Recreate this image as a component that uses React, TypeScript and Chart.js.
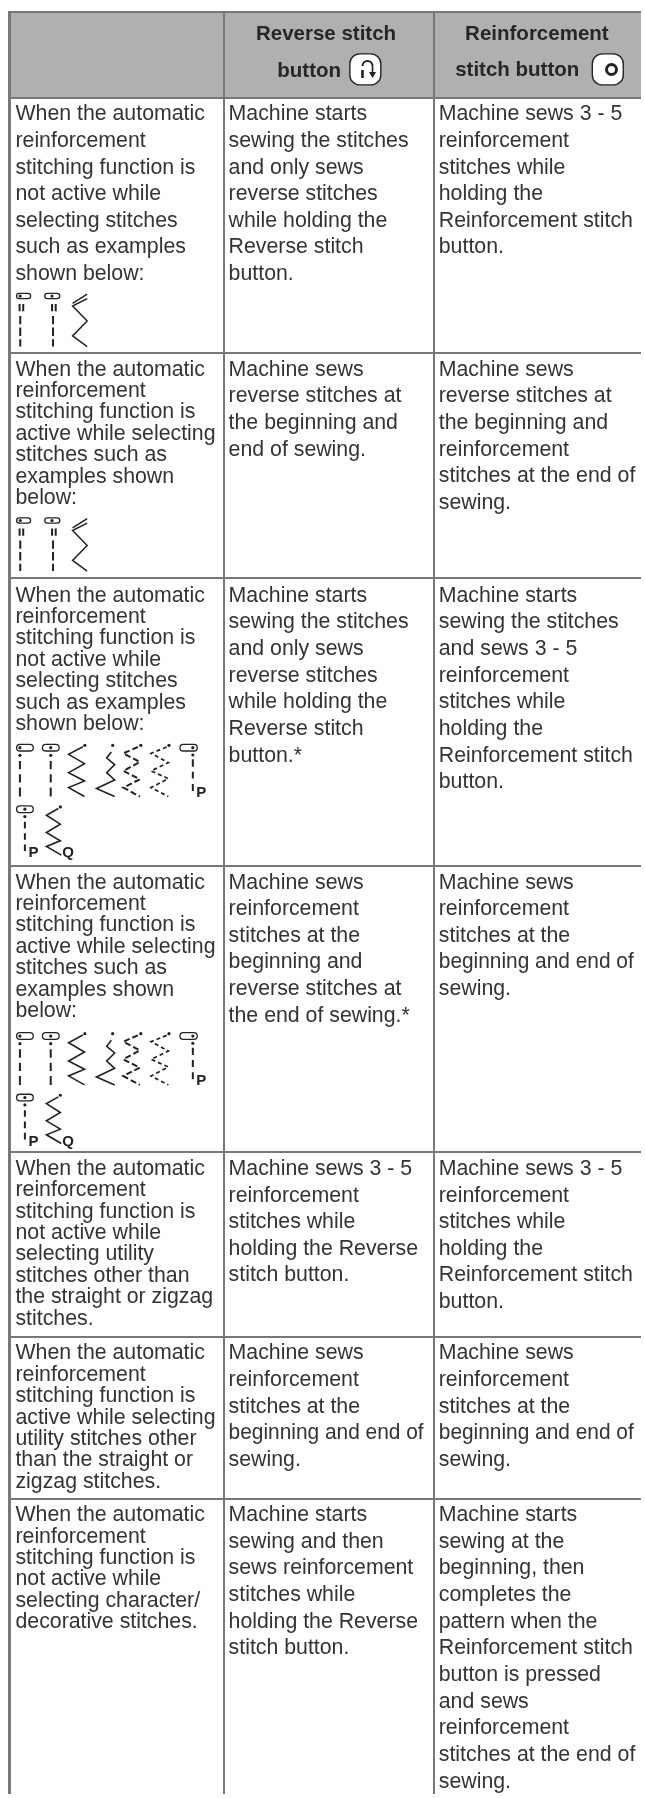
import React, { useEffect, useRef } from "react";
import { Chart, registerables } from "chart.js";

Chart.register(...registerables);

// ---------- table content ----------
const headerReverse = ["Reverse stitch", "button"];
const headerReinforce = ["Reinforcement", "stitch button"];

const conditionColumn: string[][] = [
  ["When the automatic", "reinforcement", "stitching function is", "not active while", "selecting stitches", "such as examples", "shown below:"],
  ["When the automatic", "reinforcement", "stitching function is", "active while selecting", "stitches such as", "examples shown", "below:"],
  ["When the automatic", "reinforcement", "stitching function is", "not active while", "selecting stitches", "such as examples", "shown below:"],
  ["When the automatic", "reinforcement", "stitching function is", "active while selecting", "stitches such as", "examples shown", "below:"],
  ["When the automatic", "reinforcement", "stitching function is", "not active while", "selecting utility", "stitches other than", "the straight or zigzag", "stitches."],
  ["When the automatic", "reinforcement", "stitching function is", "active while selecting", "utility stitches other", "than the straight or", "zigzag stitches."],
  ["When the automatic", "reinforcement", "stitching function is", "not active while", "selecting character/", "decorative stitches."],
];
const reverseColumn: string[][] = [
  ["Machine starts", "sewing the stitches", "and only sews", "reverse stitches", "while holding the", "Reverse stitch", "button."],
  ["Machine sews", "reverse stitches at", "the beginning and", "end of sewing."],
  ["Machine starts", "sewing the stitches", "and only sews", "reverse stitches", "while holding the", "Reverse stitch", "button.*"],
  ["Machine sews", "reinforcement", "stitches at the", "beginning and", "reverse stitches at", "the end of sewing.*"],
  ["Machine sews 3 - 5", "reinforcement", "stitches while", "holding the Reverse", "stitch button."],
  ["Machine sews", "reinforcement", "stitches at the", "beginning and end of", "sewing."],
  ["Machine starts", "sewing and then", "sews reinforcement", "stitches while", "holding the Reverse", "stitch button."],
];
const reinforceColumn: string[][] = [
  ["Machine sews 3 - 5", "reinforcement", "stitches while", "holding the", "Reinforcement stitch", "button."],
  ["Machine sews", "reverse stitches at", "the beginning and", "reinforcement", "stitches at the end of", "sewing."],
  ["Machine starts", "sewing the stitches", "and sews 3 - 5", "reinforcement", "stitches while", "holding the", "Reinforcement stitch", "button."],
  ["Machine sews", "reinforcement", "stitches at the", "beginning and end of", "sewing."],
  ["Machine sews 3 - 5", "reinforcement", "stitches while", "holding the", "Reinforcement stitch", "button."],
  ["Machine sews", "reinforcement", "stitches at the", "beginning and end of", "sewing."],
  ["Machine starts", "sewing at the", "beginning, then", "completes the", "pattern when the", "Reinforcement stitch", "button is pressed", "and sews", "reinforcement", "stitches at the end of", "sewing."],
];

// ---------- table rules on the axes (same units as canvas pixels) ----------
const columnRules = [9.5, 225, 437];
const rowRules = [12, 98, 354, 579, 868, 1155, 1340, 1502];
const textX = [15.5, 230, 441.5];
const firstBaselineGap = [22.5, 22.5, 24, 22.5, 22.5, 22.5, 22.5];
const widePitch = 26.7;
const tightPitch = 21.45;
const conditionPitch = [widePitch, tightPitch, tightPitch, tightPitch, tightPitch, tightPitch, tightPitch];

// ---------- stitch glyphs, traced at 3x from the picture ----------
type Glyph = { lines: { pts: number[][]; dash?: number[]; w?: number }[]; dots: number[][]; pills: number[][]; letters: { t: string; x: number; y: number }[] };

const bar = (x: number, a: number, b: number) => ({ pts: [[x, a], [x, b]], w: 2 });

const simpleGlyph: Glyph = {
  pills: [[20, 12, 62, 28], [105, 12, 150, 28]],
  dots: [[31, 20], [127, 20]],
  letters: [],
  lines: [
    bar(29, 44, 66), bar(40, 44, 66), bar(31, 80, 105), bar(31, 115, 140), bar(31, 150, 172),
    bar(127, 44, 66), bar(138, 44, 66), bar(130, 80, 105), bar(130, 115, 140), bar(130, 150, 172),
    { pts: [[233, 14], [189, 42]], w: 1.5 },
    { pts: [[233, 28], [189, 50], [233, 95], [189, 140], [233, 172]], w: 1.5 },
  ],
};

const fullGlyph: Glyph = {
  pills: [[50, 105, 100, 125], [128, 105, 178, 125], [543, 105, 595, 125], [50, 290, 100, 310]],
  dots: [
    [60, 115], [153, 115], [582, 115], [75, 300],
    [60, 138], [153, 138], [582, 137], [75, 322],
    [256, 108], [340, 108], [425, 108], [510, 108], [182, 293],
  ],
  letters: [{ t: "P", x: 592, y: 262 }, { t: "P", x: 86, y: 445 }, { t: "Q", x: 188, y: 445 }],
  lines: [
    bar(60, 155, 180), bar(60, 195, 220), bar(60, 235, 262),
    bar(153, 155, 180), bar(153, 195, 220), bar(153, 235, 262),
    bar(582, 150, 172), bar(582, 187, 208), bar(582, 224, 245),
    bar(75, 338, 358), bar(75, 372, 392), bar(75, 406, 426),
    { pts: [[250, 112], [207, 135], [255, 163], [207, 190], [255, 215], [207, 235], [255, 262]], w: 1.6 },
    { pts: [[336, 128], [322, 146], [346, 166], [322, 190], [346, 212], [291, 238], [346, 262]], w: 1.6 },
    { pts: [[416, 113], [372, 132], [422, 158], [372, 185], [422, 210], [372, 235], [422, 262]], w: 2, dash: [6, 3] },
    { pts: [[503, 113], [456, 132], [508, 160], [456, 185], [508, 208], [456, 235], [508, 262]], w: 1.7, dash: [4, 3] },
    { pts: [[176, 298], [140, 318], [182, 345], [140, 370], [182, 395], [140, 412], [185, 438]], w: 1.6 },
  ],
};

const glyphPlacements: { g: Glyph; ox: number; oy: number }[] = [
  { g: simpleGlyph, ox: 10, oy: 290 },
  { g: simpleGlyph, ox: 10, oy: 515 },
  { g: fullGlyph, ox: 0, oy: 711 },
  { g: fullGlyph, ox: 0, oy: 1000 },
];

const INK = "#333333";
const BODY_FONT = "21.3px 'Liberation Sans', Arial, sans-serif";
const HEAD_FONT = "bold 20.5px 'Liberation Sans', Arial, sans-serif";
const TIGHT_LINE = "beginning and end of";

function buildDatasets() {
  const out: any[] = [];
  const dots: { x: number; y: number }[] = [];
  glyphPlacements.forEach(({ g, ox, oy }) => {
    g.lines.forEach((l) => {
      out.push({
        showLine: true,
        data: l.pts.map(([x, y]) => ({ x: ox + x / 3, y: oy + y / 3 })),
        borderColor: "#222",
        borderWidth: l.w ?? 1.5,
        borderDash: l.dash ?? [],
        pointRadius: 0,
        tension: 0,
        fill: false,
      });
    });
    g.dots.forEach(([x, y]) => dots.push({ x: ox + x / 3, y: oy + y / 3 }));
  });
  out.push({ showLine: false, data: dots, pointRadius: 1.6, pointBorderWidth: 0, pointBackgroundColor: "#222" });
  return out;
}

const tablePlugin = {
  id: "tablePlugin",
  beforeDraw(chart: any) {
    const { ctx, scales } = chart;
    const { x, y } = scales;
    ctx.save();
    ctx.fillStyle = "#b0b0b0";
    const l = x.getPixelForValue(x.min);
    const t = y.getPixelForValue(rowRules[0]);
    ctx.fillRect(l, t, x.getPixelForValue(x.max) - l, y.getPixelForValue(rowRules[1]) - t);
    ctx.restore();
  },
  afterDraw(chart: any) {
    const { ctx, scales } = chart;
    const { x, y } = scales;
    ctx.save();
    ctx.textBaseline = "alphabetic";
    ctx.textAlign = "left";
    // header
    ctx.font = HEAD_FONT;
    ctx.fillStyle = "#262626";
    ctx.fillText(headerReverse[0], x.getPixelForValue(257.5), y.getPixelForValue(40));
    ctx.fillText(headerReverse[1], x.getPixelForValue(279), y.getPixelForValue(77));
    ctx.fillText(headerReinforce[0], x.getPixelForValue(468), y.getPixelForValue(40));
    ctx.fillText(headerReinforce[1], x.getPixelForValue(458), y.getPixelForValue(76));

    // buttons
    const button = (bx: number, by: number) => {
      ctx.beginPath();
      ctx.roundRect(x.getPixelForValue(bx), y.getPixelForValue(by), 31, 31, 10);
      ctx.fillStyle = "#fff";
      ctx.fill();
      ctx.strokeStyle = "#222";
      ctx.lineWidth = 1.4;
      ctx.stroke();
    };
    button(352, 54);
    ctx.strokeStyle = "#222";
    ctx.lineWidth = 2;
    ctx.beginPath();
    ctx.arc(367.5, 66, 5, Math.PI, 0);
    ctx.stroke();
    ctx.lineWidth = 2.6;
    ctx.beginPath();
    ctx.moveTo(362.5, 70);
    ctx.lineTo(362.5, 78);
    ctx.stroke();
    ctx.lineWidth = 1.6;
    ctx.beginPath();
    ctx.moveTo(372.5, 66);
    ctx.lineTo(372.5, 73);
    ctx.stroke();
    ctx.fillStyle = "#222";
    ctx.beginPath();
    ctx.moveTo(369, 72);
    ctx.lineTo(376, 72);
    ctx.lineTo(372.5, 78);
    ctx.closePath();
    ctx.fill();
    button(596, 54);
    ctx.beginPath();
    ctx.lineWidth = 3;
    ctx.arc(611.5, 69.5, 5, 0, Math.PI * 2);
    ctx.stroke();

    // body text
    ctx.font = BODY_FONT;
    ctx.fillStyle = INK;
    const drawCol = (col: string[][], cx: number, pitch: (r: number) => number) => {
      col.forEach((lines, r) => {
        const top = rowRules[r + 1];
        lines.forEach((s, i) => {
          const px = x.getPixelForValue(cx);
          const py = y.getPixelForValue(top + firstBaselineGap[r] + i * pitch(r));
          if (s === TIGHT_LINE) ctx.fillText(s, px, py, 195);
          else ctx.fillText(s, px, py);
        });
      });
    };
    drawCol(conditionColumn, textX[0], (r) => conditionPitch[r]);
    drawCol(reverseColumn, textX[1], () => widePitch);
    drawCol(reinforceColumn, textX[2], () => widePitch);

    // pills & stitch letters
    glyphPlacements.forEach(({ g, ox, oy }) => {
      ctx.strokeStyle = "#222";
      ctx.lineWidth = 1.3;
      g.pills.forEach(([a, b, c, d]) => {
        const px = x.getPixelForValue(ox + a / 3);
        const py = y.getPixelForValue(oy + b / 3);
        const w = (c - a) / 3;
        const h = (d - b) / 3;
        ctx.beginPath();
        ctx.roundRect(px, py, w, h, h / 2);
        ctx.stroke();
      });
      ctx.font = "bold 15px 'Liberation Sans', Arial, sans-serif";
      ctx.fillStyle = "#222";
      g.letters.forEach((m) => ctx.fillText(m.t, x.getPixelForValue(ox + m.x / 3), y.getPixelForValue(oy + m.y / 3)));
    });
    ctx.restore();
  },
};

export default function App() {
  const ref = useRef<HTMLCanvasElement>(null);
  useEffect(() => {
    document.body.style.margin = "0";
    const canvas = ref.current!;
    const chart = new Chart(canvas, {
      type: "scatter",
      data: { datasets: buildDatasets() },
      plugins: [tablePlugin],
      options: {
        animation: false,
        responsive: false,
        devicePixelRatio: 1,
        layout: { padding: { left: 8, top: 11, right: 0, bottom: 0 } },
        plugins: { legend: { display: false }, tooltip: { enabled: false }, title: { display: false } },
        events: [],
        scales: {
          x: {
            type: "linear",
            min: 8,
            max: 645,
            afterBuildTicks: (s: any) => { s.ticks = columnRules.map((value) => ({ value })); },
            ticks: { display: false },
            border: { display: false },
            grid: {
              color: "#787878",
              lineWidth: (c: any) => (c.tick && c.tick.value === columnRules[0] ? 3 : 2),
              drawTicks: false,
            },
          },
          y: {
            type: "linear",
            reverse: true,
            min: 11,
            max: 1798,
            afterBuildTicks: (s: any) => { s.ticks = rowRules.map((value) => ({ value })); },
            ticks: { display: false },
            border: { display: false },
            grid: { color: "#787878", lineWidth: 2, drawTicks: false },
          },
        },
      },
    } as any);
    return () => chart.destroy();
  }, []);
  return <canvas ref={ref} width={645} height={1798} style={{ display: "block", width: 645, height: 1798 }} />;
}
